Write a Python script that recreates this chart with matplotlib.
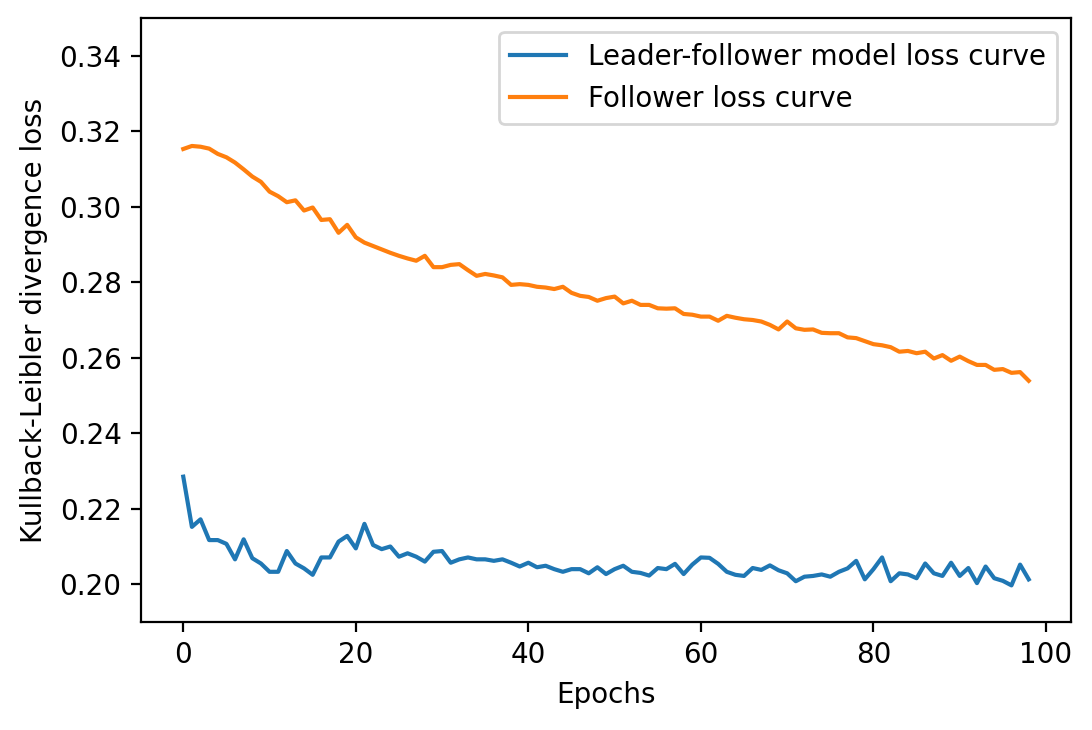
import matplotlib
matplotlib.use("Agg")
import matplotlib.pyplot as plt

# valores (epocas 0..98)
perdida_lider = [
    0.2285, 0.2152, 0.2172, 0.2117, 0.2117, 0.2107, 0.2066, 0.2119, 0.2069, 0.2055,
    0.2033, 0.2033, 0.2088, 0.2055, 0.2042, 0.2025, 0.2071, 0.2071, 0.2113, 0.2128,
    0.2095, 0.2160, 0.2104, 0.2093, 0.2100, 0.2073, 0.2082, 0.2073, 0.2060, 0.2086,
    0.2088, 0.2057, 0.2066, 0.2071, 0.2066, 0.2066, 0.2062, 0.2066, 0.2057, 0.2047,
    0.2057, 0.2045, 0.2049, 0.2040, 0.2033, 0.2040, 0.2040, 0.2029, 0.2045, 0.2027,
    0.2040, 0.2049, 0.2033, 0.2030, 0.2023, 0.2043, 0.2040, 0.2054, 0.2027, 0.2052,
    0.2071, 0.2070, 0.2054, 0.2033, 0.2025, 0.2022, 0.2043, 0.2038, 0.2050, 0.2037,
    0.2029, 0.2008, 0.2020, 0.2022, 0.2026, 0.2020, 0.2033, 0.2042, 0.2062, 0.2013,
    0.2040, 0.2071, 0.2008, 0.2029, 0.2026, 0.2016, 0.2055, 0.2029, 0.2022, 0.2057,
    0.2022, 0.2043, 0.2003, 0.2047, 0.2016, 0.2009, 0.1997, 0.2052, 0.2013,
]
perdida_seguidor = [
    0.3153, 0.3161, 0.3159, 0.3154, 0.3140, 0.3131, 0.3117, 0.3099, 0.3080, 0.3066,
    0.3040, 0.3028, 0.3012, 0.3017, 0.2990, 0.2998, 0.2965, 0.2967, 0.2931, 0.2952,
    0.2919, 0.2905, 0.2896, 0.2887, 0.2878, 0.2870, 0.2863, 0.2857, 0.2870, 0.2840,
    0.2840, 0.2846, 0.2848, 0.2832, 0.2817, 0.2822, 0.2818, 0.2813, 0.2793, 0.2795,
    0.2793, 0.2788, 0.2786, 0.2782, 0.2788, 0.2772, 0.2764, 0.2761, 0.2751, 0.2758,
    0.2762, 0.2744, 0.2751, 0.2740, 0.2740, 0.2731, 0.2730, 0.2731, 0.2716, 0.2714,
    0.2709, 0.2709, 0.2698, 0.2711, 0.2706, 0.2702, 0.2700, 0.2696, 0.2687, 0.2675,
    0.2696, 0.2678, 0.2674, 0.2675, 0.2666, 0.2665, 0.2665, 0.2654, 0.2652, 0.2644,
    0.2636, 0.2633, 0.2628, 0.2616, 0.2618, 0.2612, 0.2616, 0.2598, 0.2607, 0.2592,
    0.2603, 0.2591, 0.2581, 0.2581, 0.2568, 0.2570, 0.2560, 0.2562, 0.2539,
]
epocas = list(range(len(perdida_lider)))

fig, ax = plt.subplots(figsize=(1092 / 200, 730 / 200), dpi=200)
fig.subplots_adjust(left=141 / 1092, right=1071 / 1092, bottom=1 - 622 / 730, top=1 - 18 / 730)

ax.plot(epocas, perdida_lider, label='Leader-follower model loss curve')
ax.plot(epocas, perdida_seguidor, label='Follower loss curve')
ax.set_ylim(0.19, 0.35)
ax.set_xlabel('Epochs')
ax.set_ylabel('Kullback-Leibler divergence loss')
ax.legend(loc='upper right')

fig.savefig('out.png', dpi=200)
